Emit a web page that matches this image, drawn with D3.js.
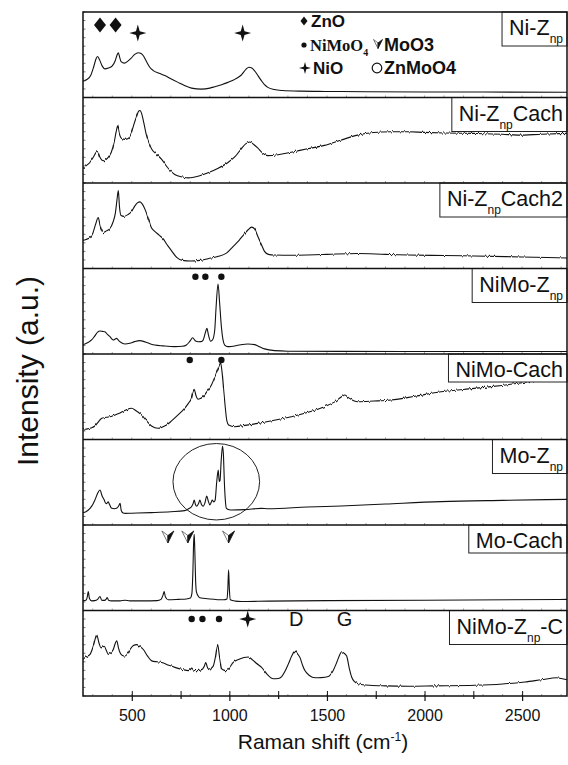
<!DOCTYPE html>
<html>
<head>
<meta charset="utf-8">
<script src="https://cdn.jsdelivr.net/npm/d3@7"></script>
<style>
  body { margin: 0; background: #fff; }
  svg { display: block; }
  text { font-family: Arial, "Liberation Sans", Helvetica, sans-serif; fill: #111; }
</style>
</head>
<body>
<svg id="chart" width="568" height="765"></svg>
<script>
// ---- data: Raman shift (cm-1) vs intensity (a.u., 0-100 per panel) ----
const xTicks = [500, 1000, 1500, 2000, 2500];
const xMinorTicks = [750, 1250, 1750, 2250];

const panelLabels = [
  ["Ni-Z", "np", ""],
  ["Ni-Z", "np", "Cach"],
  ["Ni-Z", "np", "Cach2"],
  ["NiMo-Z", "np", ""],
  ["NiMo-Cach", "", ""],
  ["Mo-Z", "np", ""],
  ["Mo-Cach", "", ""],
  ["NiMo-Z", "np", "-C"]
];

const niZnp = [[250,19],[270,21],[290,26],[305,36],[318,46],[325,48],[335,44],[348,37],[362,33.5],[380,34.5],[400,37],[415,43],[425,50],[431,52.4],[438,47],[445,42],[462,40.2],[480,42.5],[497,46],[515,50.5],[533,52.4],[548,51.5],[560,48.5],[575,42],[592,35.4],[610,31.5],[640,28.5],[669,25.6],[700,22],[737,17.7],[770,14],[806,11],[857,9.8],[900,11],[925,12.6],[960,15],[993,17.7],[1030,21.5],[1060,26],[1085,33],[1100,35.4],[1115,34.5],[1130,31],[1148,25],[1164,19.7],[1180,15],[1197,11.8],[1230,9.3],[1270,8.2],[1368,7.4],[1490,7.1],[1700,6.8],[2000,6.5],[2300,6.4],[2730,6.2]];

const niZnpCach = [[250,17],[265,20],[285,24],[305,31],[318,36],[325,36.8],[335,31],[354,26],[379,30],[395,36],[410,48],[420,60],[428,66.8],[436,58],[448,52],[465,51],[482,52],[497,58],[510,68],[525,78],[535,84],[542,84.8],[552,80],[562,70],[575,56],[590,46],[601,40],[625,34],[652,28],[680,19],[720,10],[760,7],[790,6],[840,8],[891,12],[940,17],[993,24],[1030,31],[1061,40],[1085,46],[1105,48],[1125,45],[1145,41],[1170,35],[1197,32],[1250,33],[1317,36],[1400,40],[1487,44],[1570,50],[1657,56],[1740,59],[1828,60],[1920,60],[1998,59.2],[2100,58.5],[2254,58],[2400,57],[2476,56],[2600,57],[2730,58]];

const niZnpCach2 = [[250,33],[265,34],[285,36],[300,41],[315,52],[328,59.6],[338,50],[354,42],[370,44],[385,46],[405,55],[416,65],[424,80],[431,91.2],[437,72],[445,62],[460,61],[480,63],[500,67],[515,73],[530,77],[542,77.9],[555,75],[570,68],[585,58],[600,48],[615,44],[640,39],[660,35],[680,28],[703,21],[730,13],[760,9.5],[800,8.8],[850,9.5],[891,11.5],[940,14],[985,18],[1020,26],[1050,33],[1075,40],[1095,45],[1114,48.4],[1130,46],[1145,38],[1164,28],[1180,20],[1200,16.5],[1231,15.8],[1320,15.5],[1402,15.8],[1500,16.5],[1657,17.5],[1800,16.5],[1913,15.8],[2100,15.2],[2254,14.7],[2500,13.5],[2730,12.3]];

const niMoZnp = [[250,11],[260,11.7],[280,14],[294,16.4],[310,21],[325,25.5],[337,26.9],[350,26.5],[362,26.1],[375,23],[388,20.3],[405,16.4],[415,17.5],[422,18.3],[430,16.5],[439,14.4],[452,12.5],[465,11.7],[490,12.5],[515,14.5],[541,15.6],[570,14],[600,11.5],[618,10.5],[660,9.5],[720,8.6],[760,9],[780,10.5],[798,15],[812,19],[825,15.5],[840,14.4],[855,14.5],[865,16],[877,25],[885,30],[893,22],[904,15],[915,17],[925,28],[932,55],[942,81.9],[950,60],[959,32],[967,17],[976,10.5],[992,8.6],[1010,8.8],[1050,10.5],[1095,11.7],[1130,11],[1146,9.4],[1180,6],[1232,3.9],[1300,3.3],[1573,3.1],[2000,3],[2730,3]];

const niMoCach = [[250,13],[262,12],[275,12.5],[290,13.5],[311,15.8],[330,21],[346,24.8],[370,26],[395,27],[414,28.7],[440,31],[470,34.5],[499,36.5],[520,34],[550,28.7],[575,22],[601,15.8],[635,13.1],[660,15],[678,17],[705,22],[737,28.7],[765,35],[790,42.3],[805,48],[814,56],[820,58.7],[828,52],[840,47],[852,48],[865,50],[885,56],[908,63.7],[920,70],[933,77.4],[946,85],[955,89.8],[962,80],[970,60],[978,40],[987,22],[996,17],[1027,15],[1080,16.5],[1146,18.9],[1230,22.5],[1317,26.7],[1400,31.5],[1487,38.4],[1540,44],[1575,50],[1592,52],[1610,49],[1640,45],[1657,44.2],[1740,45],[1828,46.2],[1950,50.5],[2084,55.9],[2200,58.5],[2340,61.8],[2470,65.5],[2595,69.6],[2730,72.7]];

const moZnp = [[250,14.5],[265,15.6],[286,19.5],[300,24],[311,29.2],[325,37],[337,40.9],[348,34],[359,29.2],[366,25.5],[371,25],[379,27],[386,24],[397,19.5],[410,19],[422,19.5],[432,22],[440,25.3],[446,17],[456,14],[465,13.6],[500,13.8],[600,14.5],[700,15.5],[771,16.8],[795,19.5],[806,21.4],[814,25],[820,29.2],[826,24],[833,22],[842,25],[849,29.2],[857,24],[866,22],[875,26],[884,33.9],[892,28],[900,23.4],[906,26],[912,29.2],[920,27],[927,29],[935,50],[943,64.3],[948,51],[952,52],[958,75],[965,92.4],[970,80],[974,52],[979,30],[985,19.5],[1000,17.8],[1010,17.5],[1080,18],[1164,19.5],[1200,19],[1400,21],[1573,22.2],[1800,24.5],[2084,27.3],[2400,28.8],[2730,30]];

const moCach = [[250,11.3],[265,12],[272,16],[277,22.2],[283,14],[294,11.3],[310,11.5],[325,13],[337,16.4],[346,12],[360,11.8],[368,13],[374,15.2],[381,12],[395,11.3],[440,11.3],[465,12],[490,11.3],[560,11.3],[630,11.5],[650,13],[660,18],[666,22.2],[672,16],[686,12.5],[740,13],[780,13.5],[800,14.5],[808,20],[813,45],[817,80],[820,89.2],[823,70],[827,35],[831,22],[840,17],[848,15],[900,13.5],[970,12.5],[988,13.5],[992,25],[996,47.6],[1000,25],[1005,12.5],[1030,11],[1061,10.5],[1200,11],[1500,11.5],[2000,12],[2730,13]];

const niMoZnpC = [[250,43],[260,44.9],[286,48.7],[305,60],[320,71.5],[332,62],[342,56.3],[359,58.2],[370,53],[380,48.7],[395,51],[405,54.4],[416,62],[423,64.6],[432,56],[440,50.6],[452,47.5],[465,46.8],[480,50],[491,54.4],[508,59],[525,60.1],[540,58],[559,54.4],[580,47],[602,41.1],[630,40],[653,39.2],[690,36],[721,33.5],[760,31],[789,29.7],[800,31],[807,32.7],[815,30.5],[824,29.7],[845,30],[863,31.6],[872,35],[879,39.2],[888,33],[901,30.4],[910,33],[918,35.4],[928,45],[940,60.1],[950,45],[961,31.6],[975,30],[986,29.7],[1000,33],[1020,39.2],[1050,43],[1075,45],[1097,45.6],[1120,42],[1140,38],[1165,33.5],[1195,25],[1225,20.2],[1250,20.5],[1268,22.8],[1285,29],[1302,37.3],[1320,47],[1336,52.5],[1350,49],[1362,44.9],[1375,36],[1387,29.7],[1410,24],[1439,21.3],[1470,21.5],[1507,22.8],[1530,29],[1550,39.2],[1565,48],[1575,51.7],[1588,50],[1601,46.8],[1614,33],[1627,22],[1640,17],[1660,14.4],[1720,12.5],[1800,11.8],[1917,11.4],[2050,11.8],[2258,12.5],[2400,14],[2514,16.3],[2600,19],[2677,21.3],[2700,20.5],[2730,19]];

const spectra = [niZnp, niZnpCach, niZnpCach2, niMoZnp, niMoCach, moZnp, moCach, niMoZnpC];
// detector noise amplitude of each recorded spectrum, px (0 = smooth trace)
const noiseLevel = [0, 4, 3, 0, 4.5, 0, 0, 3];

// peak markers: [panel, shift, height]
const znoMarks = [[0, 337, 84.8], [0, 417, 84.8]];
const nioMarks = [[0, 531, 75.4], [0, 1068, 75.4], [7, 1094, 90]];
const niMoO4Marks = [[3, 826, 90.4], [3, 877, 90.4], [3, 959, 90.4], [4, 797, 93], [4, 959, 93], [7, 807, 90], [7, 862, 90], [7, 947, 90]];
const moO3Marks = [[6, 685, 86], [6, 787, 86], [6, 996, 86]];
const bandLabels = [[7, 1343, 90, "D"], [7, 1590, 90, "G"]];
// highlighted region in Mo-Znp: [panel, centre shift, centre height, half-width (cm-1), half-height]
const circledRegion = [5, 933, 50.6, 222, 44.7];

// ---- layout ----
const W = 568, H = 765;
const X0 = 83, X1 = 567, Y0 = 12, Y1 = 696;
const nPanels = spectra.length;
const ph = (Y1 - Y0) / nPanels;

const svg = d3.select("#chart");
const x = d3.scaleLinear().domain([250, 2730]).range([X0, X1]);
const yScales = d3.range(nPanels).map(i =>
  d3.scaleLinear().domain([0, 100]).range([Y0 + (i + 1) * ph, Y0 + i * ph]));

const defs = svg.append("defs");
defs.append("clipPath").attr("id", "plotClip")
  .append("rect").attr("x", X0).attr("y", Y0).attr("width", X1 - X0).attr("height", Y1 - Y0);

// column-wise vertical jitter filters that give the recorded traces their grain
noiseLevel.forEach((lvl, i) => {
  if (!lvl) return;
  const f = defs.append("filter").attr("id", "grain" + i)
    .attr("filterUnits", "userSpaceOnUse").attr("x", 0).attr("y", 0).attr("width", W).attr("height", H)
    .attr("color-interpolation-filters", "sRGB");
  f.append("feTurbulence").attr("type", "fractalNoise").attr("baseFrequency", "0.55 0")
    .attr("numOctaves", 2).attr("seed", 5 + i).attr("result", "n");
  f.append("feColorMatrix").attr("in", "n").attr("type", "matrix")
    .attr("values", "0 0 0 0 0.5  0 1 0 0 0  0 0 1 0 0  0 0 0 0 1").attr("result", "m");
  f.append("feDisplacementMap").attr("in", "SourceGraphic").attr("in2", "m")
    .attr("scale", lvl).attr("xChannelSelector", "R").attr("yChannelSelector", "G");
});

// marker shapes
const diamond = (w, h) => `M0,${-h}L${w},0L0,${h}L${-w},0Z`;
const star4 = (r) => { const k = r * 0.22; return `M0,${-r}L${k},${-k}L${r},0L${k},${k}L0,${r}L${-k},${k}L${-r},0L${-k},${-k}Z`; };
function drawMoO3(g, cx, cy, s) {
  const m = g.append("g").attr("transform", `translate(${cx},${cy})`);
  m.append("path").attr("d", `M0,${s}L${-s},${-s}L0,${-s * 0.25}Z`).attr("fill", "#fff").attr("stroke", "#555").attr("stroke-width", 0.8);
  m.append("path").attr("d", `M0,${s}L0,${-s * 0.25}L${s},${-s}Z`).attr("fill", "#111").attr("stroke", "#111").attr("stroke-width", 0.8);
}

const line = (ys) => d3.line().x(d => x(d[0])).y(d => ys(d[1])).curve(d3.curveMonotoneX);

const plot = svg.append("g").attr("clip-path", "url(#plotClip)");

spectra.forEach((data, i) => {
  const ys = yScales[i];
  const p = plot.append("path").datum(data)
    .attr("d", line(ys))
    .attr("fill", "none").attr("stroke", "#111").attr("stroke-width", 1.1)
    .attr("stroke-linejoin", "round");
  if (noiseLevel[i]) p.attr("filter", `url(#grain${i})`);
});

// markers
znoMarks.forEach(([p, s, h]) => plot.append("path").attr("d", diamond(6, 7.5))
  .attr("transform", `translate(${x(s)},${yScales[p](h)})`).attr("fill", "#111"));
nioMarks.forEach(([p, s, h]) => plot.append("path").attr("d", star4(8.5))
  .attr("transform", `translate(${x(s)},${yScales[p](h)})`).attr("fill", "#111"));
niMoO4Marks.forEach(([p, s, h]) => plot.append("circle")
  .attr("cx", x(s)).attr("cy", yScales[p](h)).attr("r", 3.2).attr("fill", "#111"));
moO3Marks.forEach(([p, s, h]) => drawMoO3(plot, x(s), yScales[p](h), 6));
bandLabels.forEach(([p, s, h, t]) => plot.append("text")
  .attr("x", x(s)).attr("y", yScales[p](h)).attr("dy", "0.36em")
  .attr("text-anchor", "middle").style("font-size", "20px").text(t));
{
  const [p, s, h, dw, dh] = circledRegion;
  const ys = yScales[p];
  plot.append("ellipse").attr("cx", x(s)).attr("cy", ys(h))
    .attr("rx", x(s + dw) - x(s)).attr("ry", ys(0) - ys(dh))
    .attr("fill", "none").attr("stroke", "#222").attr("stroke-width", 1);
}

// small inner ticks on every panel
yScales.forEach((ys, i) => {
  const g = svg.append("g");
  ys.ticks(8).forEach(t => g.append("line").attr("x1", X0).attr("x2", X0 + 2.5)
    .attr("y1", ys(t)).attr("y2", ys(t)).attr("stroke", "#444").attr("stroke-width", 0.7));
  d3.range(300, 2730, 100).forEach(t => {
    g.append("line").attr("x1", x(t)).attr("x2", x(t)).attr("y1", ys(0)).attr("y2", ys(0) - 2)
      .attr("stroke", "#666").attr("stroke-width", 0.6);
  });
});

// sample name boxes
panelLabels.forEach((parts, i) => {
  const top = Y0 + i * ph;
  const g = svg.append("g");
  const t = g.append("text").attr("x", X1 - 4).attr("y", top + 23)
    .attr("text-anchor", "end").style("font-size", "21.5px");
  t.append("tspan").text(parts[0]);
  if (parts[1]) t.append("tspan").attr("dy", 8).style("font-size", "12px").text(parts[1]);
  if (parts[2]) t.append("tspan").attr("dy", parts[1] ? -8 : 0).text(parts[2]);
  const bb = t.node().getBBox();
  g.insert("rect", "text").attr("x", bb.x - 7).attr("y", top)
    .attr("width", X1 - bb.x + 7).attr("height", parts[1] ? 34 : 28)
    .attr("fill", "#fff").attr("stroke", "#222").attr("stroke-width", 1);
});

// legend in the top panel
{
  const g = svg.append("g");
  const r1 = 21, r2 = 45, r3 = 68;
  g.append("path").attr("d", diamond(3.5, 4.5)).attr("transform", `translate(304,${r1})`).attr("fill", "#111");
  g.append("text").attr("x", 311).attr("y", r1).attr("dy", "0.36em").style("font-size", "17px").style("font-weight", "bold").text("ZnO");
  g.append("circle").attr("cx", 304).attr("cy", r2).attr("r", 2.6).attr("fill", "#111");
  const tn = g.append("text").attr("x", 310).attr("y", r2).attr("dy", "0.36em")
    .style("font-family", "'Liberation Serif', 'Times New Roman', serif").style("font-size", "16.5px").style("font-weight", "bold");
  tn.append("tspan").text("NiMoO");
  tn.append("tspan").attr("dy", 5).style("font-size", "10px").text("4");
  g.append("path").attr("d", star4(6)).attr("transform", `translate(305,${r3})`).attr("fill", "#111");
  g.append("text").attr("x", 313).attr("y", r3).attr("dy", "0.36em").style("font-size", "17px").style("font-weight", "bold").text("NiO");
  drawMoO3(g, 378, r2 - 1, 4.5);
  g.append("text").attr("x", 384).attr("y", r2).attr("dy", "0.36em").style("font-size", "18px").style("font-weight", "bold").text("MoO3");
  g.append("circle").attr("cx", 377).attr("cy", r3).attr("r", 4.8).attr("fill", "none").attr("stroke", "#111").attr("stroke-width", 1.2);
  g.append("text").attr("x", 384).attr("y", r3).attr("dy", "0.36em").style("font-size", "18px").style("font-weight", "bold").text("ZnMoO4");
}

// panel separators and frame
d3.range(1, nPanels).forEach(i => svg.append("line")
  .attr("x1", X0).attr("x2", X1).attr("y1", Y0 + i * ph).attr("y2", Y0 + i * ph)
  .attr("stroke", "#111").attr("stroke-width", 1.5));
svg.append("rect").attr("x", X0).attr("y", Y0).attr("width", X1 - X0).attr("height", Y1 - Y0)
  .attr("fill", "none").attr("stroke", "#111").attr("stroke-width", 1.5);

// bottom axis: major ticks with labels, minor ticks, inner ticks
const axisG = svg.append("g").attr("transform", `translate(0,${Y1})`);
axisG.call(d3.axisBottom(x).tickValues(xTicks).tickSize(5).tickPadding(9).tickFormat(d3.format("d")));
axisG.call(g => g.select(".domain").remove());
axisG.selectAll("text").style("font-size", "16px").style("font-family", "Arial, 'Liberation Sans', sans-serif").attr("fill", "#111");
axisG.selectAll("line").attr("stroke", "#111").attr("stroke-width", 1.2);
const minorG = svg.append("g").attr("transform", `translate(0,${Y1})`);
minorG.call(d3.axisBottom(x).tickValues(xMinorTicks).tickSize(3).tickFormat(""));
minorG.call(g => g.select(".domain").remove());
minorG.selectAll("line").attr("stroke", "#111").attr("stroke-width", 1.2);
const innerG = svg.append("g").attr("transform", `translate(0,${Y1})`);
innerG.call(d3.axisTop(x).tickValues(xTicks.concat(xMinorTicks)).tickSize(5).tickFormat(""));
innerG.call(g => g.select(".domain").remove());
innerG.selectAll("line").attr("stroke", "#111").attr("stroke-width", 1);

// axis titles
const xt = svg.append("text").attr("x", 323).attr("y", 749).attr("text-anchor", "middle").style("font-size", "21px");
xt.append("tspan").text("Raman shift (cm");
xt.append("tspan").attr("dy", -8).style("font-size", "12px").text("-1");
xt.append("tspan").attr("dy", 8).text(")");

svg.append("text").attr("transform", "translate(27,371) rotate(-90)")
  .attr("text-anchor", "middle").attr("dy", "0.36em").style("font-size", "30px").text("Intensity (a.u.)");
</script>
</body>
</html>
